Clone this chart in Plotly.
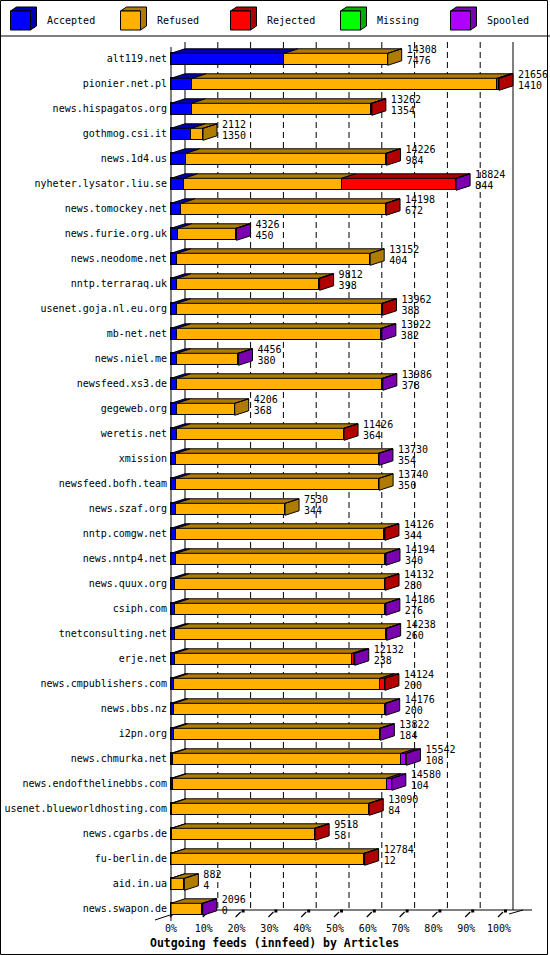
import plotly.graph_objects as go

# innfeed outgoing feeds, counts per peer
hosts = [
    "alt119.net", "pionier.net.pl", "news.hispagatos.org", "gothmog.csi.it",
    "news.1d4.us", "nyheter.lysator.liu.se", "news.tomockey.net",
    "news.furie.org.uk", "news.neodome.net", "nntp.terraraq.uk",
    "usenet.goja.nl.eu.org", "mb-net.net", "news.niel.me", "newsfeed.xs3.de",
    "gegeweb.org", "weretis.net", "xmission", "newsfeed.bofh.team",
    "news.szaf.org", "nntp.comgw.net", "news.nntp4.net", "news.quux.org",
    "csiph.com", "tnetconsulting.net", "erje.net", "news.cmpublishers.com",
    "news.bbs.nz", "i2pn.org", "news.chmurka.net", "news.endofthelinebbs.com",
    "usenet.blueworldhosting.com", "news.cgarbs.de", "fu-berlin.de",
    "aid.in.ua", "news.swapon.de",
]
accepted = [7476, 1410, 1354, 1350, 984, 844, 672, 450, 404, 398, 388, 382,
            380, 378, 368, 364, 354, 350, 344, 344, 340, 280, 276, 260, 238,
            200, 200, 184, 108, 104, 84, 58, 12, 4, 0]
refused = [6832, 20116, 11868, 762, 13212, 10423, 13496, 3836, 12748, 9384,
           13544, 13510, 4046, 13578, 3838, 11032, 13346, 13390, 7186, 13742,
           13814, 13822, 13880, 13948, 11734, 13594, 13946, 13598, 15104,
           14126, 12976, 9430, 12742, 878, 2076]
rejected = [0, 130, 40, 0, 30, 7528, 30, 0, 0, 30, 30, 0, 0, 0, 0, 30, 0, 0,
            0, 40, 0, 30, 0, 0, 130, 330, 0, 0, 0, 0, 30, 30, 30, 0, 0]
missing = [0, 0, 0, 0, 0, 0, 0, 0, 0, 0, 0, 0, 0, 0, 0, 0, 0, 0, 0, 0, 0, 0,
           0, 0, 0, 0, 0, 0, 0, 0, 0, 0, 0, 0, 0]
spooled = [0, 0, 0, 0, 0, 29, 0, 40, 0, 0, 0, 30, 30, 30, 0, 0, 30, 0, 0, 0,
           40, 0, 30, 30, 30, 0, 30, 40, 330, 350, 0, 0, 0, 0, 20]

series_names = ["Accepted", "Refused", "Rejected", "Missing", "Spooled"]
series = [accepted, refused, rejected, missing, spooled]
front_colors = ["#0000ff", "#ffb000", "#ff0000", "#00ff00", "#b000ff"]
dark_colors = ["#0000b0", "#b07c00", "#b00000", "#00b000", "#7a00b0"]
pct_ticks = [0, 10, 20, 30, 40, 50, 60, 70, 80, 90, 100]

W, H = 550, 955
X0_PX = 171.0      # pixel of front 0%
PX_PER_PCT = 3.28
ROW0_PX = 59.3     # pixel centre of first row
ROW_PX = 25.0


def xv(px):
    return (px - X0_PX) / PX_PER_PCT


def yv(py):
    return (py - ROW0_PX) / ROW_PX


DX = 14 / PX_PER_PCT       # 3d depth, to the right
DY = 4.5 / ROW_PX          # 3d depth, upward
HALF = 6 / ROW_PX          # half bar height

n = len(hosts)
rows = list(range(n))
totals = [sum(s[i] for s in series) for i in range(n)]
top = max(totals)
pct = [[v / top * 100 for v in s] for s in series]

fig = go.Figure()

# front faces
for k, name in enumerate(series_names):
    fig.add_trace(go.Bar(
        y=rows, x=[v if v > 0 else None for v in pct[k]], orientation="h",
        width=2 * HALF, marker=dict(color=front_colors[k], line=dict(color="black", width=1)),
        name=name, showlegend=False, hoverinfo="skip",
    ))

# top faces and the visible side face
polys = [([], []) for _ in series_names]
ends = []
for i in rows:
    start = 0.0
    last = None
    for k in range(len(series)):
        v = pct[k][i]
        if v <= 0:
            continue
        yt = i - HALF
        xs, ys = polys[k]
        xs += [start, start + v, start + v + DX, start + DX, start, None]
        ys += [yt, yt, yt - DY, yt - DY, yt, None]
        start += v
        last = k
    ends.append(start)
    if last is not None:
        xs, ys = polys[last]
        xs += [start, start, start + DX, start + DX, start, None]
        ys += [i - HALF, i + HALF, i + HALF - DY, i - HALF - DY, i - HALF, None]

for k in range(len(series)):
    if not polys[k][0]:
        continue
    fig.add_trace(go.Scatter(
        x=polys[k][0], y=polys[k][1], mode="lines", fill="toself",
        fillcolor=dark_colors[k], line=dict(color="black", width=1),
        showlegend=False, hoverinfo="skip",
    ))

mono = dict(family="DejaVu Sans Mono", size=10, color="black")

# host names
fig.add_trace(go.Scatter(
    x=[xv(167)] * n, y=rows, text=hosts, mode="text",
    textposition="middle left", textfont=mono, showlegend=False, hoverinfo="skip",
))
# totals and accepted counts
lab_x = [e + DX + xv(X0_PX + 5) for e in ends]
fig.add_trace(go.Scatter(
    x=lab_x, y=[i - 0.34 for i in rows], text=[str(t) for t in totals],
    mode="text", textposition="middle right", textfont=mono,
    showlegend=False, hoverinfo="skip", cliponaxis=False,
))
fig.add_trace(go.Scatter(
    x=lab_x, y=[i + 0.08 for i in rows], text=[str(a) for a in accepted],
    mode="text", textposition="middle right", textfont=mono,
    showlegend=False, hoverinfo="skip", cliponaxis=False,
))
# percent tick labels
fig.add_trace(go.Scatter(
    x=pct_ticks, y=[yv(929)] * len(pct_ticks), text=[f"{t}%" for t in pct_ticks],
    mode="text", textposition="middle center", textfont=mono,
    showlegend=False, hoverinfo="skip",
))

shapes = []
y_top, y_floor = yv(42), yv(910)
for t in pct_ticks:
    solid = t in (0, 100)
    shapes.append(dict(
        type="line", xref="x", yref="y", x0=t + DX, x1=t + DX, y0=y_top, y1=y_floor,
        line=dict(color="black", width=1, dash="solid" if solid else "6px,4px"),
        layer="below",
    ))
    # little floor ticks
    shapes.append(dict(
        type="line", xref="x", yref="y", x0=t - 0.3, x1=t + xv(X0_PX + 4),
        y0=yv(917), y1=yv(912), line=dict(color="black", width=1.2), layer="below",
    ))
    shapes.append(dict(
        type="rect", xref="x", yref="y", x0=t + xv(X0_PX + 5), x1=t + xv(X0_PX + 8),
        y0=yv(912.5), y1=yv(909.5), fillcolor="black", line=dict(width=0), layer="below",
    ))
# front axis, floor
shapes.append(dict(type="line", xref="x", yref="y", x0=0, x1=0, y0=yv(47), y1=yv(921),
                   line=dict(color="black", width=1)))
shapes.append(dict(type="line", xref="x", yref="y", x0=DX, x1=xv(532), y0=y_floor, y1=y_floor,
                   line=dict(color="black", width=1), layer="below"))
shapes.append(dict(type="line", xref="x", yref="y", x0=xv(155), x1=DX, y0=yv(920), y1=y_floor,
                   line=dict(color="black", width=1), layer="below"))
shapes.append(dict(type="line", xref="x", yref="y", x0=xv(509), x1=xv(523), y0=yv(914), y1=y_floor,
                   line=dict(color="black", width=1), layer="below"))

# legend strip
annotations = []
for k, name in enumerate(series_names):
    x0 = 10.5 + 110 * k
    fx0, fx1, fy0, fy1 = x0, x0 + 20, 11, 30
    d, u = 6, 4
    shapes.append(dict(type="path", xref="paper", yref="paper",
                       path=f"M{fx0/W},{1-fy0/H} L{(fx0+d)/W},{1-(fy0-u)/H} "
                            f"L{(fx1+d)/W},{1-(fy0-u)/H} L{(fx1+d)/W},{1-(fy1-u)/H} "
                            f"L{fx1/W},{1-fy1/H} L{fx1/W},{1-fy0/H} Z",
                       fillcolor=dark_colors[k], line=dict(color="black", width=1)))
    shapes.append(dict(type="rect", xref="paper", yref="paper",
                       x0=fx0 / W, x1=fx1 / W, y0=1 - fy1 / H, y1=1 - fy0 / H,
                       fillcolor=front_colors[k], line=dict(color="black", width=1)))
    annotations.append(dict(x=(x0 + 34) / W, y=1 - 21 / H, xref="paper", yref="paper",
                            text=name, showarrow=False, xanchor="left", yanchor="middle",
                            font=mono))

shapes.append(dict(type="line", xref="paper", yref="paper", x0=0, x1=1,
                   y0=1 - 36 / H, y1=1 - 36 / H, line=dict(color="black", width=1)))
shapes.append(dict(type="rect", xref="paper", yref="paper", x0=0.5 / W, x1=1 - 2.5 / W,
                   y0=0.5 / H, y1=1 - 0.5 / H, line=dict(color="black", width=1)))

annotations.append(dict(x=274 / W, y=1 - 943 / H, xref="paper", yref="paper",
                        text="<b>Outgoing feeds (innfeed) by Articles</b>", showarrow=False,
                        xanchor="center", yanchor="middle",
                        font=dict(family="DejaVu Sans Mono", size=11.5, color="black")))

fig.update_layout(
    width=W, height=H, margin=dict(l=0, r=0, t=0, b=0),
    paper_bgcolor="white", plot_bgcolor="white",
    barmode="stack", bargap=0,
    xaxis=dict(range=[xv(0), xv(W)], visible=False, fixedrange=True),
    yaxis=dict(range=[yv(H), yv(0)], visible=False, fixedrange=True),
    shapes=shapes, annotations=annotations, showlegend=False,
)

fig.write_html("out.html", config={"displayModeBar": False},
               post_script="document.body.style.margin='0';")
